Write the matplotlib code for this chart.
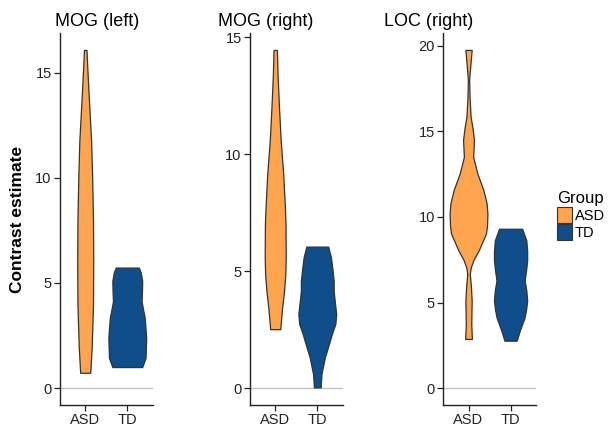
import numpy as np
import matplotlib
matplotlib.use("Agg")
import matplotlib.pyplot as plt
from matplotlib.patches import Patch

plt.rcParams["font.family"] = ["Liberation Sans", "DejaVu Sans"]

groups = ["ASD", "TD"]
colors = {"ASD": "#FFA54F", "TD": "#104E8B"}
titles = ["MOG (left)", "MOG (right)", "LOC (right)"]
yticks = [[0, 5, 10, 15], [0, 5, 10, 15], [0, 5, 10, 15, 20]]

# violin outlines: y level and full width (x units)
mog_l_asd_y = [0.73, 2, 4, 6, 8, 10, 11.76, 14, 15, 16.08]
mog_l_asd_w = [0.24, 0.31, 0.37, 0.38, 0.37, 0.33, 0.28, 0.16, 0.11, 0.06]
mog_l_td_y = [1.0, 1.44, 2.4, 3.35, 3.8, 4.14, 4.6, 5.1, 5.5, 5.73]
mog_l_td_w = [0.71, 0.87, 0.90, 0.83, 0.74, 0.68, 0.70, 0.71, 0.64, 0.55]

mog_r_asd_y = [2.52, 2.75, 3.45, 4.16, 4.88, 5.59, 7.02, 7.73, 9.16, 10.58, 12.0, 13.44, 14.46]
mog_r_asd_w = [0.24, 0.26, 0.33, 0.42, 0.48, 0.50, 0.49, 0.46, 0.38, 0.26, 0.18, 0.11, 0.08]
mog_r_td_y = [0.03, 0.6, 1.31, 2.02, 2.31, 2.74, 3.17, 3.73, 4.16, 4.59, 5.16, 5.59, 6.05]
mog_r_td_w = [0.16, 0.20, 0.36, 0.60, 0.69, 0.86, 0.90, 0.83, 0.78, 0.78, 0.71, 0.65, 0.52]

loc_r_asd_y = [2.87, 3.75, 5.11, 6.0, 6.68, 7.06, 7.5, 8.04, 9.02, 9.5, 10.19, 10.8, 11.56,
               12.54, 13.51, 14.49, 15.2, 15.85, 17.0, 18.0, 18.78, 19.76]
loc_r_asd_w = [0.16, 0.13, 0.15, 0.11, 0.06, 0.11, 0.24, 0.48, 0.83, 0.88, 0.90, 0.86, 0.71,
               0.42, 0.22, 0.26, 0.19, 0.10, 0.05, 0.03, 0.08, 0.15]
loc_r_td_y = [2.77, 3.36, 4.14, 4.6, 5.11, 5.7, 6.29, 6.9, 7.46, 8.0, 8.63, 9.31]
loc_r_td_w = [0.29, 0.44, 0.67, 0.74, 0.79, 0.75, 0.67, 0.74, 0.79, 0.79, 0.75, 0.55]

panels = [
    [(mog_l_asd_y, mog_l_asd_w), (mog_l_td_y, mog_l_td_w)],
    [(mog_r_asd_y, mog_r_asd_w), (mog_r_td_y, mog_r_td_w)],
    [(loc_r_asd_y, loc_r_asd_w), (loc_r_td_y, loc_r_td_w)],
]

W, H = 611, 426
fig = plt.figure(figsize=(W / 100, H / 100), dpi=100)

lefts = [60, 250, 443.3]
title_x = [55, 218, 384]
pw, top, bot = 92.5, 33, 405

for i, violins in enumerate(panels):
    ax = fig.add_axes([lefts[i] / W, (H - bot) / H, pw / W, (bot - top) / H])
    ax.axhline(0, color="#BEBEBE", lw=0.9, zorder=1)
    ymax = 0
    for k, (vy, vw) in enumerate(violins):
        vy = np.array(vy); half = np.array(vw) / 2
        ax.fill_betweenx(vy, k + 1 - half, k + 1 + half, facecolor=colors[groups[k]],
                         edgecolor="#333333", lw=0.9, zorder=2)
        ymax = max(ymax, vy.max())
    pad = ymax * 0.05
    ax.set_ylim(-pad, ymax + pad)
    ax.set_xlim(0.4, 2.6)
    ax.set_xticks([1, 2], groups)
    ax.set_yticks(yticks[i])
    for s in ["top", "right"]:
        ax.spines[s].set_visible(False)
    for s in ["left", "bottom"]:
        ax.spines[s].set_linewidth(1.0)
        ax.spines[s].set_color("#222222")
    ax.tick_params(length=4, width=0.9, color="#222222", labelsize=10.5,
                   labelcolor="#222222", pad=2)
    fig.text(title_x[i] / W, 1 - 21 / H, titles[i], ha="left", va="center", fontsize=13)

fig.text(18 / W, 1 - 219 / H, "Contrast estimate", rotation=90, ha="center", va="center",
         fontsize=12.5, fontweight="bold")

handles = [Patch(facecolor=colors[g], edgecolor="#333333", lw=0.8, label=g) for g in groups]
leg = fig.legend(handles=handles, title="Group", loc="upper left",
                 bbox_to_anchor=(557 / W, 1 - 191 / H), frameon=False, fontsize=10.5,
                 title_fontsize=12, handlelength=1.0, handleheight=1.35, handletextpad=0.2,
                 labelspacing=0.05, borderaxespad=0, borderpad=0, alignment="left")

fig.savefig("out.png", dpi=100)
